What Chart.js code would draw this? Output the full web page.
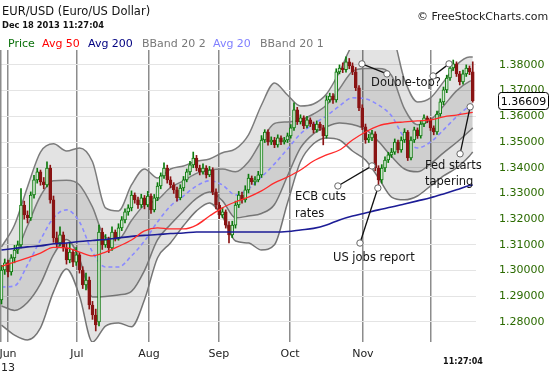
<!DOCTYPE html>
<html>
<head>
<meta charset="utf-8">
<script src="https://cdn.jsdelivr.net/npm/chart.js@4.4.0/dist/chart.umd.min.js"></script>
<style>
  body { margin: 0; background: #fff; }
  #wrap { position: relative; width: 550px; height: 375px; font-family: "DejaVu Sans", Verdana, sans-serif; }
  #wrap canvas { position: absolute; left: 0; top: 0; }
  .t { position: absolute; white-space: nowrap; line-height: 13px; }
</style>
</head>
<body>
<div id="wrap">
  <canvas id="fxChart" width="550" height="375"></canvas>
  <div class="t" style="left:2px;top:5px;font-size:11.5px;color:#111">EUR/USD (Euro/US Dollar)</div>
  <div class="t" style="left:2px;top:19px;font-size:8.3px;font-weight:bold;color:#111">Dec 18 2013 11:27:04</div>
  <div class="t" style="left:417px;top:10px;font-size:11px;color:#222">© FreeStockCharts.com</div>
  <div class="t" style="left:8px;top:37px;font-size:11px;color:#0a700a">Price</div>
  <div class="t" style="left:42px;top:37px;font-size:11px;color:#ff0000">Avg 50</div>
  <div class="t" style="left:88px;top:37px;font-size:11px;color:#000080">Avg 200</div>
  <div class="t" style="left:142px;top:37px;font-size:11px;color:#777">BBand 20 2</div>
  <div class="t" style="left:213px;top:37px;font-size:11px;color:#8080ff">Avg 20</div>
  <div class="t" style="left:260px;top:37px;font-size:11px;color:#777">BBand 20 1</div>
</div>
<script>
// ---- daily candles (bar index -2 .. 143, Jun gridline = 0) ----
const firstBar = -2;
const opens = [1.2886,1.3002,1.3030,1.2995,1.3049,1.3080,1.3100,1.3255,1.3216,1.3205,
  1.3294,1.3353,1.3384,1.3345,1.3333,1.3399,1.3275,1.3127,1.3107,1.3139,
  1.3088,1.3041,1.3072,1.3033,1.3061,1.3002,1.2944,1.2963,1.2866,1.2827,
  1.2800,1.3150,1.3100,1.3119,1.3088,1.3150,1.3127,1.3166,1.3197,1.3228,
  1.3244,1.3294,1.3275,1.3255,1.3283,1.3255,1.3290,1.3236,1.3283,1.3329,
  1.3368,1.3399,1.3353,1.3333,1.3314,1.3283,1.3321,1.3353,1.3384,1.3411,
  1.3438,1.3399,1.3384,1.3399,1.3372,1.3391,1.3306,1.3255,1.3216,1.3228,
  1.3177,1.3139,1.3177,1.3255,1.3294,1.3275,1.3314,1.3360,1.3345,1.3353,
  1.3372,1.3508,1.3539,1.3500,1.3508,1.3489,1.3516,1.3500,1.3508,1.3524,
  1.3555,1.3625,1.3578,1.3594,1.3563,1.3586,1.3570,1.3547,1.3570,1.3555,
  1.3524,1.3664,1.3679,1.3664,1.3773,1.3788,1.3781,1.3812,1.3796,1.3773,
  1.3711,1.3633,1.3559,1.3508,1.3516,1.3532,1.3399,1.3353,1.3399,1.3430,
  1.3450,1.3461,1.3500,1.3469,1.3508,1.3539,1.3438,1.3508,1.3547,1.3524,
  1.3570,1.3594,1.3586,1.3555,1.3539,1.3609,1.3656,1.3703,1.3749,1.3788,
  1.3804,1.3765,1.3734,1.3765,1.3788,1.3773];
const highs = [1.3020,1.3045,1.3041,1.3062,1.3098,1.3115,1.3319,1.3270,1.3232,1.3306,
  1.3370,1.3398,1.3391,1.3362,1.3423,1.3410,1.3290,1.3150,1.3170,1.3150,
  1.3105,1.3110,1.3082,1.3090,1.3070,1.3015,1.2990,1.2975,1.2880,1.2850,
  1.3177,1.3165,1.3140,1.3130,1.3170,1.3158,1.3182,1.3210,1.3240,1.3256,
  1.3310,1.3302,1.3286,1.3297,1.3292,1.3308,1.3298,1.3296,1.3342,1.3380,
  1.3419,1.3410,1.3365,1.3342,1.3325,1.3334,1.3366,1.3395,1.3425,1.3461,
  1.3448,1.3410,1.3415,1.3408,1.3405,1.3400,1.3318,1.3265,1.3245,1.3236,
  1.3190,1.3192,1.3270,1.3308,1.3305,1.3330,1.3375,1.3368,1.3366,1.3386,
  1.3525,1.3548,1.3547,1.3520,1.3518,1.3528,1.3524,1.3518,1.3535,1.3568,
  1.3652,1.3635,1.3606,1.3602,1.3600,1.3594,1.3578,1.3582,1.3578,1.3565,
  1.3680,1.3690,1.3688,1.3785,1.3800,1.3808,1.3831,1.3825,1.3808,1.3790,
  1.3720,1.3645,1.3570,1.3530,1.3545,1.3540,1.3408,1.3412,1.3442,1.3460,
  1.3475,1.3512,1.3508,1.3520,1.3552,1.3545,1.3520,1.3558,1.3555,1.3582,
  1.3606,1.3601,1.3594,1.3563,1.3620,1.3668,1.3714,1.3760,1.3800,1.3819,
  1.3812,1.3775,1.3780,1.3800,1.3796,1.3812];
const lows = [1.2870,1.2985,1.2975,1.2982,1.3030,1.3066,1.3088,1.3200,1.3185,1.3195,
  1.3282,1.3340,1.3332,1.3318,1.3325,1.3262,1.3110,1.3090,1.3095,1.3075,
  1.3025,1.3030,1.3015,1.3020,1.2990,1.2930,1.2925,1.2850,1.2810,1.2765,
  1.2785,1.3082,1.3090,1.3070,1.3078,1.3115,1.3118,1.3155,1.3185,1.3215,
  1.3232,1.3262,1.3242,1.3245,1.3240,1.3248,1.3222,1.3228,1.3272,1.3318,
  1.3358,1.3340,1.3322,1.3300,1.3270,1.3275,1.3310,1.3345,1.3372,1.3400,
  1.3388,1.3372,1.3375,1.3360,1.3365,1.3295,1.3240,1.3202,1.3205,1.3165,
  1.3107,1.3128,1.3165,1.3245,1.3262,1.3266,1.3302,1.3335,1.3332,1.3345,
  1.3362,1.3498,1.3488,1.3490,1.3478,1.3480,1.3490,1.3492,1.3498,1.3515,
  1.3545,1.3568,1.3570,1.3552,1.3555,1.3560,1.3535,1.3538,1.3545,1.3489,
  1.3515,1.3655,1.3650,1.3655,1.3765,1.3770,1.3772,1.3785,1.3762,1.3700,
  1.3622,1.3548,1.3495,1.3498,1.3505,1.3388,1.3321,1.3340,1.3385,1.3420,
  1.3440,1.3452,1.3458,1.3460,1.3498,1.3428,1.3430,1.3498,1.3514,1.3515,
  1.3560,1.3575,1.3545,1.3528,1.3530,1.3600,1.3645,1.3692,1.3740,1.3778,
  1.3755,1.3722,1.3725,1.3755,1.3762,1.3655];
const closes = [1.3002,1.3030,1.2995,1.3049,1.3080,1.3100,1.3255,1.3216,1.3205,1.3294,
  1.3353,1.3384,1.3345,1.3333,1.3399,1.3275,1.3127,1.3107,1.3139,1.3088,
  1.3041,1.3072,1.3033,1.3061,1.3002,1.2944,1.2963,1.2866,1.2827,1.2788,
  1.3150,1.3100,1.3119,1.3088,1.3150,1.3127,1.3166,1.3197,1.3228,1.3244,
  1.3294,1.3275,1.3255,1.3283,1.3255,1.3290,1.3236,1.3283,1.3329,1.3368,
  1.3399,1.3353,1.3333,1.3314,1.3283,1.3321,1.3353,1.3384,1.3411,1.3438,
  1.3399,1.3384,1.3399,1.3372,1.3391,1.3306,1.3255,1.3216,1.3228,1.3177,
  1.3139,1.3177,1.3255,1.3294,1.3275,1.3314,1.3360,1.3345,1.3353,1.3372,
  1.3508,1.3539,1.3500,1.3508,1.3489,1.3516,1.3500,1.3508,1.3524,1.3555,
  1.3625,1.3578,1.3594,1.3563,1.3586,1.3570,1.3547,1.3570,1.3555,1.3524,
  1.3664,1.3679,1.3664,1.3773,1.3788,1.3781,1.3812,1.3796,1.3773,1.3711,
  1.3633,1.3559,1.3508,1.3516,1.3532,1.3399,1.3353,1.3399,1.3430,1.3450,
  1.3461,1.3500,1.3469,1.3508,1.3539,1.3438,1.3508,1.3547,1.3524,1.3570,
  1.3594,1.3586,1.3555,1.3539,1.3609,1.3656,1.3703,1.3749,1.3788,1.3804,
  1.3765,1.3734,1.3765,1.3788,1.3773,1.36609];

// ---- indicator lines, read every 4 bars ----
const lineIdx = [-2,2,6,10,14,18,22,26,30,34,38,42,46,50,54,58,62,66,70,74,78,82,86,90,94,98,102,106,110,114,118,122,126,130,134,138,142,143];
const avg20 = [1.2936,1.2940,1.3022,1.3119,1.3205,1.3236,1.3189,1.3072,1.3014,1.3014,1.3057,1.3115,1.3189,1.3251,1.3290,1.3329,1.3349,1.3333,1.3294,1.3318,1.3364,1.3415,1.3473,1.3532,1.3570,1.3602,1.3640,1.3672,1.3668,1.3644,1.3602,1.3516,1.3477,1.3500,1.3547,1.3598,1.3640,1.3648];
const avg50 = [1.3016,1.3033,1.3049,1.3068,1.3090,1.3088,1.3072,1.3057,1.3072,1.3094,1.3119,1.3154,1.3166,1.3162,1.3162,1.3177,1.3212,1.3244,1.3267,1.3286,1.3310,1.3341,1.3364,1.3391,1.3426,1.3450,1.3469,1.3508,1.3539,1.3563,1.3574,1.3578,1.3582,1.3586,1.3598,1.3605,1.3613,1.3615];
const avg200 = [1.3080,1.3086,1.3092,1.3096,1.3104,1.3107,1.3113,1.3117,1.3121,1.3127,1.3133,1.3137,1.3140,1.3144,1.3146,1.3150,1.3150,1.3150,1.3150,1.3150,1.3150,1.3150,1.3152,1.3158,1.3164,1.3177,1.3197,1.3212,1.3224,1.3236,1.3247,1.3259,1.3271,1.3283,1.3298,1.3314,1.3331,1.3333];
const bb2Upper = [1.3092,1.3177,1.3325,1.3461,1.3493,1.3465,1.3477,1.3423,1.3244,1.3232,1.3333,1.3395,1.3360,1.3395,1.3407,1.3426,1.3434,1.3458,1.3473,1.3528,1.3644,1.3730,1.3683,1.3640,1.3648,1.3687,1.3773,1.3878,1.3905,1.3928,1.3917,1.3742,1.3656,1.3672,1.3734,1.3800,1.3831,1.3831];
const bb2Lower = [1.2788,1.2749,1.2730,1.2777,1.2917,1.3006,1.2901,1.2722,1.2784,1.2796,1.2781,1.2886,1.3049,1.3107,1.3174,1.3232,1.3263,1.3209,1.3115,1.3107,1.3080,1.3100,1.3263,1.3423,1.3493,1.3516,1.3508,1.3465,1.3430,1.3360,1.3286,1.3275,1.3290,1.3329,1.3368,1.3399,1.3446,1.3461];
const bb1Upper = [1.3014,1.3059,1.3174,1.3290,1.3349,1.3351,1.3333,1.3247,1.3129,1.3123,1.3195,1.3255,1.3275,1.3323,1.3349,1.3378,1.3391,1.3395,1.3384,1.3423,1.3504,1.3572,1.3578,1.3586,1.3609,1.3644,1.3707,1.3775,1.3786,1.3786,1.3759,1.3629,1.3567,1.3586,1.3640,1.3699,1.3736,1.3740];
const bb1Lower = [1.2862,1.2845,1.2876,1.2948,1.3061,1.3121,1.3045,1.2897,1.2899,1.2905,1.2919,1.3000,1.3119,1.3179,1.3232,1.3281,1.3306,1.3271,1.3205,1.3212,1.3222,1.3257,1.3368,1.3477,1.3532,1.3559,1.3574,1.3568,1.3549,1.3502,1.3444,1.3395,1.3384,1.3415,1.3458,1.3498,1.3543,1.3555];

// ---- axes ----
const yTicks = [1.28,1.29,1.30,1.31,1.32,1.33,1.34,1.35,1.36,1.37,1.38];
const monthPos = [0, 21.2, 43.4, 64.9, 86.8, 109.2, 130.2];
const monthLabels = [['Jun','13'],'Jul','Aug','Sep','Oct','Nov',''];
const timeLabel = '11:27:04';

// ---- annotations: [bar index, price] ----
const noteLinks = [
  [[108.9,1.3804],[116.6,1.3765]],
  [[130.8,1.3757],[135.7,1.3804]],
  [[112.0,1.3407],[101.5,1.3329]],
  [[113.8,1.3321],[108.3,1.3107]],
  [[142.2,1.3637],[139.1,1.3454]]
];
const noteTexts = [
  { x: 111.7, y: 1.3730, lines: ['Double-top?'] },
  { x: 88.3,  y: 1.3286, lines: ['ECB cuts', 'rates'] },
  { x: 100.0, y: 1.3049, lines: ['US jobs report'] },
  { x: 128.3, y: 1.3407, lines: ['Fed starts', 'tapering'] }
];

const FONT = '"DejaVu Sans", Verdana, sans-serif';
Chart.defaults.font.family = FONT;

const barX = closes.map((_, k) => firstBar + k);
const isUp = k => closes[k] >= opens[k];
const UP = '#0b7a0b', DOWN = '#8a1414';

function lineData(vals) {
  return lineIdx.map((x, k) => ({ x: x, y: vals[k] }));
}
function bandLine(label, vals, extra) {
  return Object.assign({
    type: 'line', label: label, data: lineData(vals),
    borderColor: '#7c7c7c', borderWidth: 1.5, pointRadius: 0,
    cubicInterpolationMode: 'monotone', fill: false
  }, extra);
}

// extra drawing: left border, annotations, last price box, time label
const extras = {
  id: 'extras',
  beforeDatasetsDraw(chart) {
    const { ctx, chartArea: a } = chart;
    ctx.save();
    ctx.strokeStyle = '#8c8c8c';
    ctx.lineWidth = 1.5;
    ctx.beginPath();
    ctx.moveTo(a.left + 0.75, a.top);
    ctx.lineTo(a.left + 0.75, a.bottom);
    ctx.stroke();
    ctx.restore();
  },
  afterDraw(chart) {
    const { ctx, chartArea: a } = chart;
    const xs = chart.scales.x, ys = chart.scales.y;
    const px = p => [xs.getPixelForValue(p[0]), ys.getPixelForValue(p[1])];
    ctx.save();

    // annotation lines with small circles at both ends
    noteLinks.forEach(link => {
      const p1 = px(link[0]), p2 = px(link[1]);
      ctx.strokeStyle = '#111';
      ctx.lineWidth = 1.3;
      ctx.beginPath();
      ctx.moveTo(p1[0], p1[1]);
      ctx.lineTo(p2[0], p2[1]);
      ctx.stroke();
      [p1, p2].forEach(p => {
        ctx.beginPath();
        ctx.arc(p[0], p[1], 3.2, 0, Math.PI * 2);
        ctx.fillStyle = '#fff';
        ctx.fill();
        ctx.strokeStyle = '#666';
        ctx.lineWidth = 1;
        ctx.stroke();
      });
    });

    ctx.font = '11.5px ' + FONT;
    ctx.fillStyle = '#151515';
    ctx.textAlign = 'left';
    ctx.textBaseline = 'middle';
    noteTexts.forEach(n => {
      const p = px([n.x, n.y]);
      n.lines.forEach((s, j) => ctx.fillText(s, p[0], p[1] + j * 16.5));
    });

    // last price box on the axis
    const last = closes[closes.length - 1];
    const yl = ys.getPixelForValue(last);
    const bx = a.right + 22, bw = 50, bh = 17;
    ctx.beginPath();
    ctx.roundRect(bx + 0.5, Math.round(yl - bh / 2) + 0.5, bw, bh, 3);
    ctx.fillStyle = '#fff';
    ctx.fill();
    ctx.strokeStyle = '#000';
    ctx.lineWidth = 1;
    ctx.stroke();
    ctx.fillStyle = '#000';
    ctx.font = '11px ' + FONT;
    ctx.textAlign = 'center';
    ctx.fillText(last.toFixed(5), bx + bw / 2 + 0.5, yl + 1);

    // time label under the last bars
    ctx.font = 'bold 8px ' + FONT;
    ctx.fillStyle = '#111';
    ctx.fillText(timeLabel, xs.getPixelForValue(140), a.bottom + 20);
    ctx.restore();
  }
};

new Chart(document.getElementById('fxChart'), {
  type: 'bar',
  data: {
    datasets: [
      bandLine('BBand 20 2 upper', bb2Upper, { fill: '+1', backgroundColor: 'rgba(0,0,0,0.11)', order: 6 }),
      bandLine('BBand 20 2 lower', bb2Lower, { order: 6 }),
      bandLine('BBand 20 1 upper', bb1Upper, { fill: '+1', backgroundColor: 'rgba(0,0,0,0.09)', order: 5 }),
      bandLine('BBand 20 1 lower', bb1Lower, { order: 5 }),
      {
        type: 'line', label: 'Avg 20', data: lineData(avg20),
        borderColor: '#8a8aff', borderWidth: 1.6, borderDash: [4, 3], pointRadius: 0,
        cubicInterpolationMode: 'monotone', order: 4
      },
      {
        type: 'bar', label: 'wicks',
        data: barX.map((x, k) => ({ x: x, y: [lows[k], highs[k]] })),
        backgroundColor: c => isUp(c.dataIndex) ? UP : DOWN,
        barThickness: 1, grouped: false, order: 3
      },
      {
        type: 'bar', label: 'Price',
        data: barX.map((x, k) => ({ x: x, y: [opens[k], closes[k]] })),
        backgroundColor: c => isUp(c.dataIndex) ? 'rgba(235,245,235,0.9)' : DOWN,
        borderColor: c => isUp(c.dataIndex) ? UP : DOWN,
        borderWidth: 1, borderSkipped: false, minBarLength: 1,
        barThickness: 3, grouped: false, order: 2
      },
      {
        type: 'line', label: 'Avg 50', data: lineData(avg50),
        borderColor: '#ff2a2a', borderWidth: 1.3, pointRadius: 0,
        cubicInterpolationMode: 'monotone', order: 1
      },
      {
        type: 'line', label: 'Avg 200', data: lineData(avg200),
        borderColor: '#1c1c96', borderWidth: 1.6, pointRadius: 0,
        cubicInterpolationMode: 'monotone', order: 1
      }
    ]
  },
  options: {
    responsive: false,
    animation: false,
    devicePixelRatio: 1,
    layout: { padding: { top: 50, left: 0, right: 0, bottom: 0 } },
    plugins: { legend: { display: false }, tooltip: { enabled: false } },
    scales: {
      x: {
        type: 'linear',
        min: -2.46,
        max: 144,
        offset: false,
        afterBuildTicks: s => { s.ticks = monthPos.map(v => ({ value: v })); },
        afterFit: s => { s.height = 33; s.paddingLeft = 0; s.paddingRight = 0; },
        ticks: {
          autoSkip: false, maxRotation: 0, padding: 6,
          color: '#222', font: { size: 11 },
          callback: (v, i) => monthLabels[i]
        },
        grid: { color: '#8c8c8c', lineWidth: 1.5, drawTicks: false, offset: false },
        border: { display: false }
      },
      y: {
        position: 'right',
        min: 1.2722,
        max: 1.3858,
        afterBuildTicks: s => { s.ticks = yTicks.map(v => ({ value: v })); },
        afterFit: s => { s.width = 74; },
        ticks: {
          padding: 23, color: '#2b6a00', font: { size: 11 },
          callback: v => v.toFixed(5)
        },
        grid: { color: '#e4e4e4', lineWidth: 1, drawTicks: false },
        border: { display: false }
      }
    }
  },
  plugins: [extras]
});
</script>
</body>
</html>
